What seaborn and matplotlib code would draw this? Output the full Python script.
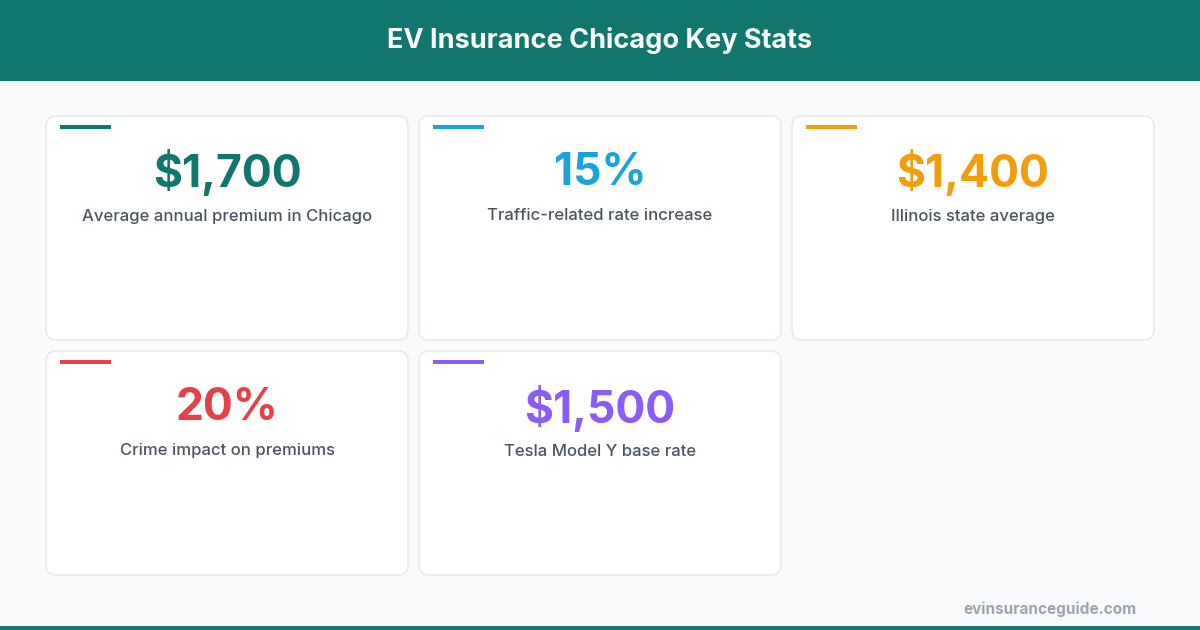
import matplotlib
matplotlib.use("Agg")
import matplotlib.pyplot as plt
import seaborn as sns
from matplotlib.patches import FancyBboxPatch, Rectangle

title = "EV Insurance Chicago Key Stats"
values = ["$1,700", "15%", "$1,400", "20%", "$1,500"]
labels = ["Average annual premium in Chicago", "Traffic-related rate increase",
          "Illinois state average", "Crime impact on premiums", "Tesla Model Y base rate"]
colors = ["#10766E", "#1AA3E0", "#F29D0C", "#E5414A", "#8B5CF6"]
footer = "evinsuranceguide.com"

sns.set_theme(style="white")
plt.rcParams['font.family'] = ['Inter', 'DejaVu Sans']

W, H = 1200, 630
fig = plt.figure(figsize=(12, 6.3), dpi=100)
fig.patch.set_facecolor("#F8FAFB")
ax = fig.add_axes([0, 0, 1, 1])
ax.set_xlim(0, W); ax.set_ylim(H, 0); ax.axis("off")

ax.add_patch(Rectangle((0, 0), W, 81, color="#10766E", lw=0))
ax.text(W/2, 41, title, color="white", fontsize=19.5, fontweight="bold", ha="center", va="center")
ax.add_patch(Rectangle((0, 626), W, 4, color="#10766E", lw=0))

cw, ch, gx, gy = 362, 224, 11, 11
x0, y0 = 46, 116
for i, (v, l, c) in enumerate(zip(values, labels, colors)):
    col, row = i % 3, i // 3
    x = x0 + col * (cw + gx); y = y0 + row * (ch + gy)
    ax.add_patch(FancyBboxPatch((x, y), cw, ch, boxstyle="round,pad=0,rounding_size=10",
                                fc="white", ec="#E2E8EC", lw=1))
    ax.add_patch(Rectangle((x + 14, y + 9), 51, 4, color=c, lw=0))
    ax.text(x + cw/2, y + 57, v, color=c, fontsize=32, fontweight="bold", ha="center", va="center")
    ax.text(x + cw/2, y + 100, l, color="#4A5563", fontsize=12, fontweight="medium", ha="center", va="center")

ax.text(1136, 609, footer, color="#9AA5B1", fontsize=11, fontweight="bold", ha="right", va="center")
fig.savefig("out.png", dpi=100, facecolor=fig.get_facecolor())
